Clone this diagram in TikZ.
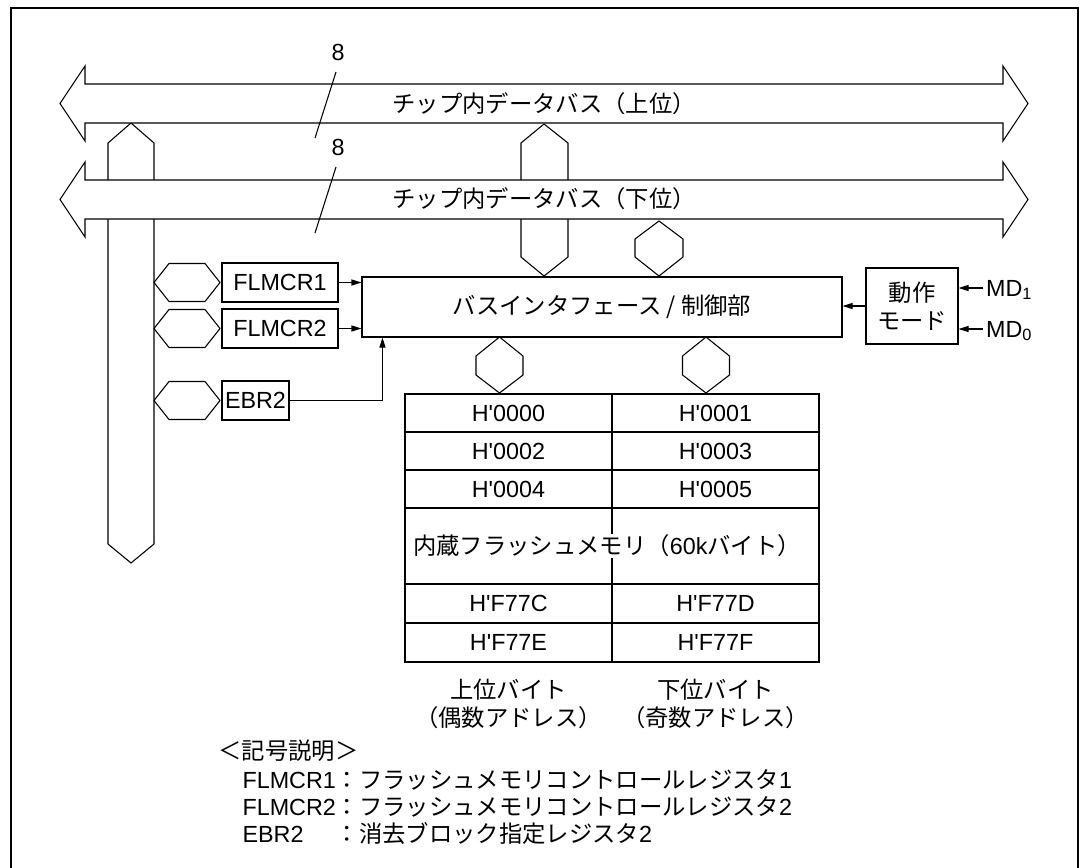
\documentclass[tikz,border=0pt]{standalone}
\usepackage{fontspec}
\setmainfont{Liberation Sans}
\newfontfamily\jp{Noto Sans CJK JP}
\usetikzlibrary{arrows.meta,positioning}

\begin{document}
\begin{tikzpicture}[x=0.75pt,y=-0.75pt,line width=0.8pt,
    >={Stealth[length=7.5pt,width=4.5pt,inset=0pt]},
    every node/.style={font=\fontsize{17.5pt}{21pt}\selectfont},
    reg node/.style={draw,inner sep=0pt,minimum height=29.25pt},
    cell/.style={inner sep=0pt},
    md node/.style={anchor=west,inner sep=2pt,text height=12.5pt,text depth=0pt}]

  \useasboundingbox (0,0) rectangle (1079,868);
  \draw[line width=1pt] (11,868) -- (11,8) -- (1078,8) -- (1078,868);

  % vertical buses, under the horizontal ones
  \draw (108,143) -- (131,123) -- (154,143) -- (154,544) -- (131,563) -- (108,544) -- cycle;
  \draw (521,143) -- (544,124) -- (568,143) -- (568,257) -- (544,276) -- (521,257) -- cycle;
  \draw (659,221) -- (683,239) -- (683,257) -- (659,276) -- (635,257) -- (635,239) -- cycle;

  % internal data buses
  \foreach \dy in {0,96}
    \draw[fill=white] (85,84+\dy) -- (1003,84+\dy) -- (1003,66+\dy) -- (1028,103.5+\dy)
      -- (1003,141+\dy) -- (1003,123+\dy) -- (85,123+\dy) -- (85,141+\dy)
      -- (60,103.5+\dy) -- (85,66+\dy) -- cycle;

  \node (busH) at (544,104) {\jp チップ内データバス（上位）};
  \node (busL) at (544,199) {\jp チップ内データバス（下位）};
  \node (w1) at (338,52) {8};
  \node (w2) at (338,147) {8};
  \draw (336,72) -- (315,138);
  \draw (336,167) -- (315,233);

  % control and registers
  \node[draw,minimum width=360pt,minimum height=45pt] (ctrl) at (602,307) {\jp バスインタフェース / 制御部};
  \node[draw,minimum width=69pt,minimum height=57pt,align=center] (mode) at (912,306) {\jp 動作\\\jp モード};
  \node[md node] (md1) at (983,288) {MD\textsubscript{1}};
  \node[md node] (md0) at (983,329) {MD\textsubscript{0}};

  \node[reg node,minimum width=87pt] (flmcr1) at (280,282.5) {FLMCR1};
  \node[reg node,minimum width=87pt] (flmcr2) at (280,328.5) {FLMCR2};
  \node[reg node,minimum width=50.25pt] (ebr2) at (255.5,400.5) {EBR2};

  \foreach \c in {282.5,328.5,400.5}
    \draw (154,\c) -- (169,\c-19) -- (205,\c-19) -- (220,\c) -- (205,\c+19) -- (169,\c+19) -- cycle;

  \draw[->] (flmcr1.east) -- (flmcr1.east -| ctrl.west);
  \draw[->] (flmcr2.east) -- (flmcr2.east -| ctrl.west);
  \draw[->] (ebr2.east) -| ([xshift=15.75pt]ctrl.south west);
  \draw[->] (mode.west) -- (mode.west -| ctrl.east);
  \draw[->] (md1.west) -- (md1.west -| mode.east);
  \draw[->] (md0.west) -- (md0.west -| mode.east);

  \foreach \x in {499.5,706}
    \draw (\x,337) -- (\x+23.5,356) -- (\x+23.5,375) -- (\x,393) -- (\x-23.5,375) -- (\x-23.5,356) -- cycle;

  % flash memory map
  \draw (405,394) rectangle (819,662);
  \draw (612,394) -- (612,662);
  \foreach \y in {432,470,508,584,623}
    \draw (405,\y) -- (819,\y);

  \node[cell] (a0) at (508.5,413) {H\textquotesingle0000};
  \node[cell] (a1) at (715.5,413) {H\textquotesingle0001};
  \node[cell] (a2) at (508.5,451) {H\textquotesingle0002};
  \node[cell] (a3) at (715.5,451) {H\textquotesingle0003};
  \node[cell] (a4) at (508.5,489) {H\textquotesingle0004};
  \node[cell] (a5) at (715.5,489) {H\textquotesingle0005};
  \node[fill=white,inner sep=1pt] (flash) at (607,546) {\jp 内蔵フラッシュメモリ（\rmfamily 60k\jp バイト）};
  \node[cell] (ac) at (508.5,603.5) {H\textquotesingle F77C};
  \node[cell] (ad) at (715.5,603.5) {H\textquotesingle F77D};
  \node[cell] (ae) at (508.5,642.5) {H\textquotesingle F77E};
  \node[cell] (af) at (715.5,642.5) {H\textquotesingle F77F};

  \node[align=center] (hi) at (508.5,704) {\jp 上位バイト\\\jp （偶数アドレス）};
  \node[align=center] (lo) at (715.5,704) {\jp 下位バイト\\\jp （奇数アドレス）};

  % legend
  \node[anchor=west,inner sep=0pt] (key) at (218,751) {\jp ＜記号説明＞};
  \node[anchor=west,inner sep=0pt] (k1) at (242,780) {\makebox[4em][l]{FLMCR1}\jp ：フラッシュメモリコントロールレジスタ\rmfamily 1};
  \node[anchor=west,inner sep=0pt] (k2) at (242,807) {\makebox[4em][l]{FLMCR2}\jp ：フラッシュメモリコントロールレジスタ\rmfamily 2};
  \node[anchor=west,inner sep=0pt] (k3) at (242,834) {\makebox[4em][l]{EBR2}\jp ：消去ブロック指定レジスタ\rmfamily 2};
\end{tikzpicture}
\end{document}
